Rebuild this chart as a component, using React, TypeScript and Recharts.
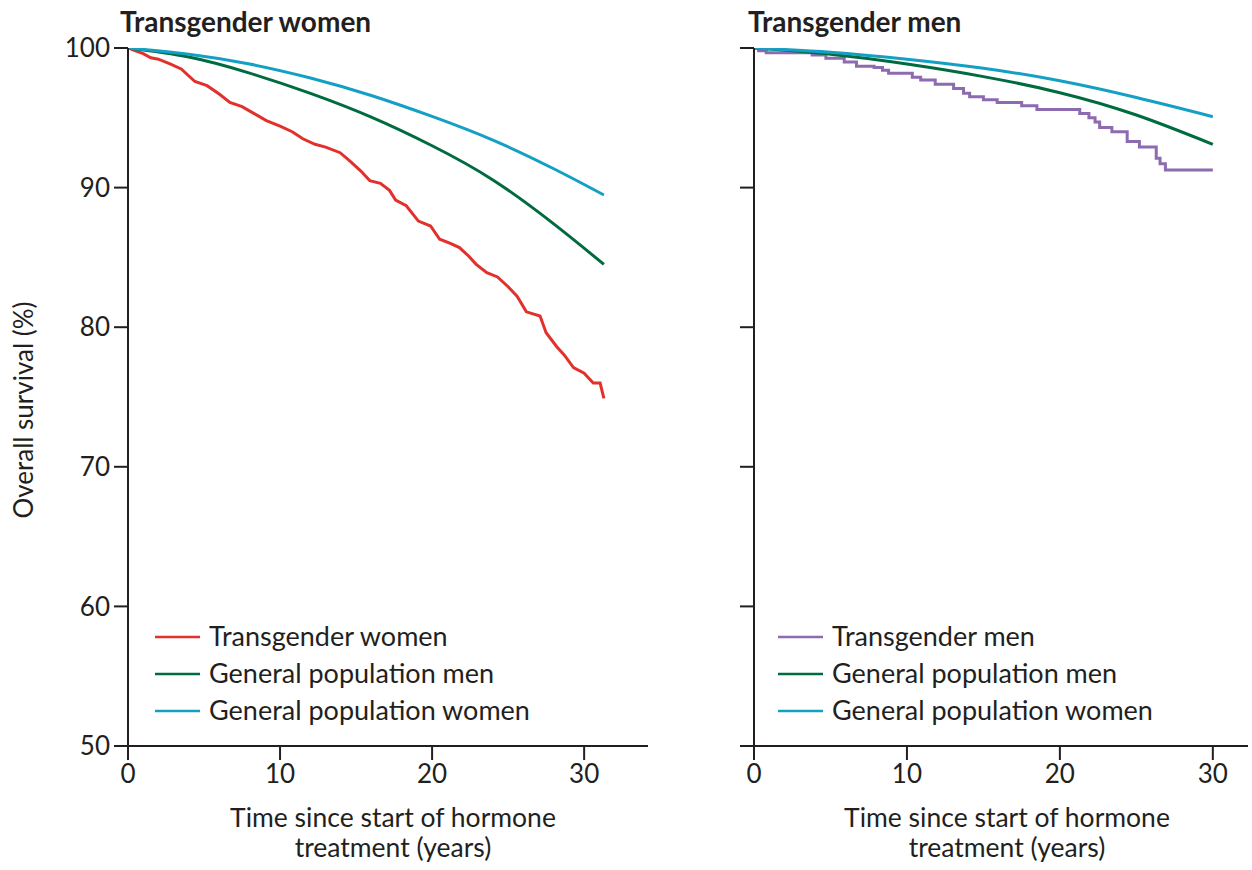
import React from 'react';
import { LineChart, Line, XAxis, YAxis } from 'recharts';

type Pt = { t: number; v: number };
const mk = (ts: number[], vs: number[]): Pt[] => ts.map((t, i) => ({ t, v: vs[i] }));

// Left panel: transgender women
const twT = [0, 0.5, 1, 1.5, 2, 2.8, 3.5, 4.4, 5.2, 6, 6.7, 7.5, 8.3, 9.1, 10, 10.8, 11.5, 12.3, 13, 13.95, 14.6, 15.3, 15.9, 16.6, 17.2, 17.6, 18.3, 19.1, 19.9, 20.5, 21.2, 21.8, 22.4, 22.9, 23.6, 24.3, 25, 25.6, 26.2, 27.1, 27.5, 28.2, 28.7, 29.3, 30, 30.6, 31.05, 31.3];
const twV = [100, 99.8, 99.6, 99.3, 99.2, 98.85, 98.5, 97.6, 97.3, 96.7, 96.1, 95.8, 95.3, 94.8, 94.4, 94.0, 93.5, 93.1, 92.9, 92.5, 91.9, 91.2, 90.5, 90.3, 89.8, 89.1, 88.7, 87.6, 87.25, 86.3, 86.0, 85.7, 85.1, 84.5, 83.9, 83.6, 82.9, 82.2, 81.1, 80.8, 79.6, 78.6, 78.0, 77.1, 76.7, 76.0, 76.0, 74.9];

const gmLT = [0, 4, 8, 12, 16, 20, 24, 28, 31.3];
const gmLV = [100, 99.35, 98.2, 96.75, 95.05, 93.0, 90.55, 87.4, 84.5];

const gwLT = [0, 4, 8, 12, 16, 20, 24, 28, 31.3];
const gwLV = [100, 99.55, 98.85, 97.85, 96.6, 95.1, 93.4, 91.35, 89.47];

// Right panel: transgender men
const tmT = [0, 0.3, 0.8, 3.8, 4.7, 5.9, 6.7, 7.85, 8.4, 8.8, 10.35, 10.9, 11.85, 13.05, 13.7, 14.1, 15.0, 15.9, 17.5, 18.5, 21.3, 21.9, 22.3, 22.6, 23.4, 24.4, 25.2, 26.3, 26.55, 26.9, 30];
const tmV = [100, 99.8, 99.66, 99.5, 99.26, 99.0, 98.7, 98.6, 98.4, 98.2, 97.9, 97.7, 97.4, 97.1, 96.75, 96.5, 96.3, 96.1, 95.87, 95.6, 95.3, 95.0, 94.7, 94.3, 94.0, 93.3, 92.9, 92.1, 91.7, 91.26, 91.26];

const gmRT = [0, 5, 10, 15, 20, 25, 30];
const gmRV = [100, 99.55, 98.85, 97.95, 96.8, 95.2, 93.1];

const gwRT = [0, 5, 10, 15, 20, 25, 30];
const gwRV = [100, 99.7, 99.2, 98.55, 97.65, 96.45, 95.08];

const xTicks = [0, 10, 20, 30];
const yTicks = [50, 60, 70, 80, 90, 100];

const RED = '#e2312d';
const GREEN = '#006b3f';
const BLUE = '#14a0c4';
const PURPLE = '#8d6bb1';
const INK = '#231f20';
const FONT = 'Lato, "Open Sans", sans-serif';

const leftSeries = [
  { name: 'Transgender women', data: mk(twT, twV), color: RED, kind: 'linear' },
  { name: 'General population men', data: mk(gmLT, gmLV), color: GREEN, kind: 'natural' },
  { name: 'General population women', data: mk(gwLT, gwLV), color: BLUE, kind: 'natural' },
];
const rightSeries = [
  { name: 'Transgender men', data: mk(tmT, tmV), color: PURPLE, kind: 'stepAfter' },
  { name: 'General population men', data: mk(gmRT, gmRV), color: GREEN, kind: 'natural' },
  { name: 'General population women', data: mk(gwRT, gwRV), color: BLUE, kind: 'natural' },
];

const axisStyle = { stroke: INK, strokeWidth: 2 };
const tickStyle = { fill: INK, fontSize: 26, fontFamily: FONT };

function Panel({ series, width, margin, xMax, showYLabels }: any) {
  return (
    <LineChart width={width} height={870} margin={margin}>
      <XAxis
        type="number"
        dataKey="t"
        domain={[0, xMax]}
        ticks={xTicks}
        allowDataOverflow
        height={40}
        tickSize={14}
        tickMargin={5}
        axisLine={axisStyle}
        tickLine={axisStyle}
        tick={tickStyle}
      />
      <YAxis
        type="number"
        dataKey="v"
        domain={[50, 100]}
        ticks={yTicks}
        allowDataOverflow
        width={60}
        tickSize={14}
        tickMargin={4}
        axisLine={axisStyle}
        tickLine={axisStyle}
        tick={tickStyle}
        tickFormatter={showYLabels ? (v: number) => String(v) : () => ''}
      />
      {series.map((s: any) => (
        <Line
          key={s.name}
          data={s.data}
          dataKey="v"
          type={s.kind}
          stroke={s.color}
          strokeWidth={3}
          dot={false}
          isAnimationActive={false}
        />
      ))}
    </LineChart>
  );
}

function Legend({ series, x, y }: any) {
  return (
    <g>
      {series.map((s: any, i: number) => (
        <g key={s.name}>
          <line x1={x} x2={x + 45} y1={y + i * 37} y2={y + i * 37} stroke={s.color} strokeWidth={2.5} />
          <text x={x + 54} y={y + i * 37 + 9} fontSize={27} fontFamily={FONT} fill={INK}>
            {s.name}
          </text>
        </g>
      ))}
    </g>
  );
}

export default function App() {
  return (
    <div style={{ position: 'absolute', left: 0, top: 0, width: 1252, height: 870, background: '#fff', overflow: 'hidden' }}>
      <div style={{ position: 'absolute', left: 0, top: 0 }}>
        <Panel series={leftSeries} width={660} margin={{ top: 48, right: 12, bottom: 84, left: 68 }} xMax={34.2} showYLabels />
      </div>
      <div style={{ position: 'absolute', left: 660, top: 0 }}>
        <Panel series={rightSeries} width={592} margin={{ top: 48, right: 4, bottom: 84, left: 34 }} xMax={32.3} showYLabels={false} />
      </div>
      <svg width={1252} height={870} style={{ position: 'absolute', left: 0, top: 0, pointerEvents: 'none' }}>
        <text x={120} y={32} fontSize={28} fontWeight="bold" fontFamily={FONT} fill={INK}>Transgender women</text>
        <text x={748} y={32} fontSize={28} fontWeight="bold" fontFamily={FONT} fill={INK}>Transgender men</text>
        <text x={33} y={410} transform="rotate(-90 33 410)" textAnchor="middle" fontSize={26} fontFamily={FONT} fill={INK}>Overall survival (%)</text>
        <text x={393} y={827} textAnchor="middle" fontSize={26.5} fontFamily={FONT} fill={INK}>Time since start of hormone</text>
        <text x={393} y={857} textAnchor="middle" fontSize={26.5} fontFamily={FONT} fill={INK}>treatment (years)</text>
        <text x={1007} y={827} textAnchor="middle" fontSize={26.5} fontFamily={FONT} fill={INK}>Time since start of hormone</text>
        <text x={1007} y={857} textAnchor="middle" fontSize={26.5} fontFamily={FONT} fill={INK}>treatment (years)</text>
        <Legend series={leftSeries} x={155} y={637} />
        <Legend series={rightSeries} x={778} y={637} />
      </svg>
    </div>
  );
}
